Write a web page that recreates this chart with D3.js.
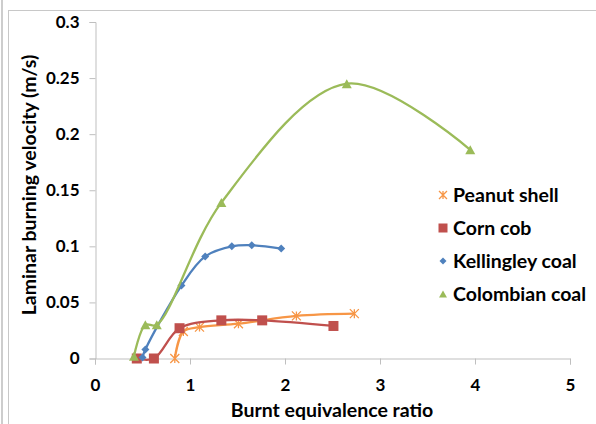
<!DOCTYPE html>
<html>
<head>
<meta charset="utf-8">
<script src="https://cdn.jsdelivr.net/npm/d3@7"></script>
<style>
  body { margin: 0; background: #fff; }
  svg { display: block; font-family: Lato, "Open Sans", sans-serif; }
</style>
</head>
<body>
<svg width="596" height="424"></svg>
<script>
// values
const seriesNames = ["Peanut shell", "Corn cob", "Kellingley coal", "Colombian coal"];
const seriesColors = ["#f79646", "#c0504d", "#4f81bd", "#9bbb59"];
const seriesMarkers = ["star", "square", "diamond", "triangle"];

const peanutX = [0.84, 0.93, 1.10, 1.51, 2.12, 2.73];
const peanutY = [0.000, 0.024, 0.028, 0.031, 0.038, 0.040];
const cornX = [0.44, 0.62, 0.89, 1.33, 1.76, 2.51];
const cornY = [0.000, 0.000, 0.027, 0.034, 0.034, 0.029];
const kellX = [0.50, 0.53, 0.91, 1.16, 1.44, 1.65, 1.96];
const kellY = [0.001, 0.008, 0.065, 0.091, 0.100, 0.101, 0.098];
const colX = [0.41, 0.53, 0.65, 1.33, 2.65, 3.95];
const colY = [0.002, 0.030, 0.030, 0.139, 0.245, 0.186];

const xTicks = [0, 1, 2, 3, 4, 5];
const yTicks = [0, 0.05, 0.1, 0.15, 0.2, 0.25, 0.3];

const seriesX = [peanutX, cornX, kellX, colX];
const seriesY = [peanutY, cornY, kellY, colY];

const svg = d3.select("svg");

// frame around the figure
svg.append("line").attr("x1", 2).attr("x2", 2).attr("y1", 0).attr("y2", 424)
  .attr("stroke", "#bdbdbd").attr("stroke-width", 1.5);
svg.append("line").attr("x1", 8.5).attr("x2", 8.5).attr("y1", 10).attr("y2", 424)
  .attr("stroke", "#c8c8c8").attr("stroke-width", 1);
svg.append("line").attr("x1", 8).attr("x2", 596).attr("y1", 10.5).attr("y2", 10.5)
  .attr("stroke", "#c8c8c8").attr("stroke-width", 1);

const x = d3.scaleLinear().domain([0, 5]).range([95, 570]);
const y = d3.scaleLinear().domain([0, 0.3]).range([358.5, 22]);

const axisColor = "#bfbfbf";

// y axis
const yAxis = svg.append("g")
  .attr("transform", "translate(95.5,0)")
  .call(d3.axisLeft(y).tickValues(yTicks).tickSize(6).tickPadding(10)
    .tickFormat(d => d3.format("")(+d.toFixed(2))));
// x axis
const xAxis = svg.append("g")
  .attr("transform", "translate(0,358.5)")
  .call(d3.axisBottom(x).tickValues(xTicks).tickSize(6).tickPadding(12)
    .tickFormat(d3.format("d")));

[yAxis, xAxis].forEach(g => {
  g.select(".domain").attr("stroke", axisColor);
  g.selectAll(".tick line").attr("stroke", axisColor);
  g.selectAll(".tick text")
    .attr("fill", "#000")
    .attr("font-family", "Lato, sans-serif")
    .attr("font-weight", "bold")
    .attr("font-size", "17px");
});
xAxis.selectAll(".tick text").attr("dy", "0.85em");

// axis titles
svg.append("text")
  .attr("x", 332).attr("y", 417)
  .attr("text-anchor", "middle")
  .attr("font-weight", "bold").attr("font-size", "19.5px")
  .text("Burnt equivalence ratio");
svg.append("text")
  .attr("transform", "translate(36,185) rotate(-90)")
  .attr("text-anchor", "middle")
  .attr("font-weight", "bold").attr("font-size", "19.5px")
  .text("Laminar burning velocity (m/s)");

const line = d3.line()
  .x(d => x(d[0]))
  .y(d => y(d[1]))
  .curve(d3.curveCatmullRom.alpha(0.5));

function drawMarker(g, type, cx, cy, color, s) {
  if (type === "square") {
    g.append("rect").attr("x", cx - s / 2).attr("y", cy - s / 2)
      .attr("width", s).attr("height", s).attr("fill", color);
  } else if (type === "diamond") {
    g.append("path")
      .attr("d", `M${cx},${cy - s / 2}L${cx + s / 2},${cy}L${cx},${cy + s / 2}L${cx - s / 2},${cy}Z`)
      .attr("fill", color);
  } else if (type === "triangle") {
    const h = s * 0.9;
    g.append("path")
      .attr("d", `M${cx},${cy - h / 2}L${cx + s / 2},${cy + h / 2}L${cx - s / 2},${cy + h / 2}Z`)
      .attr("fill", color);
  } else {
    const r = s / 2;
    g.append("path")
      .attr("d", `M${cx - r},${cy - r}L${cx + r},${cy + r}M${cx - r},${cy + r}L${cx + r},${cy - r}M${cx},${cy - r}L${cx},${cy + r}`)
      .attr("stroke", color).attr("stroke-width", 1.3).attr("fill", "none");
  }
}

const markerSizes = [9, 10, 8, 10];

seriesNames.forEach((name, i) => {
  const pts = seriesX[i].map((v, j) => [v, seriesY[i][j]]);
  const g = svg.append("g");
  g.append("path")
    .datum(pts)
    .attr("d", line)
    .attr("fill", "none")
    .attr("stroke", seriesColors[i])
    .attr("stroke-width", 2.3);
  pts.forEach(p => drawMarker(g, seriesMarkers[i], x(p[0]), y(p[1]), seriesColors[i], markerSizes[i]));
});

// legend
const legend = svg.append("g");
seriesNames.forEach((name, i) => {
  const ly = 195 + i * 33;
  drawMarker(legend, seriesMarkers[i], 443, ly, seriesColors[i], [8, 9, 7, 8][i]);
  legend.append("text")
    .attr("x", 453).attr("y", ly)
    .attr("dy", "0.36em")
    .attr("font-weight", "bold").attr("font-size", "19.5px")
    .text(name);
});
</script>
</body>
</html>
